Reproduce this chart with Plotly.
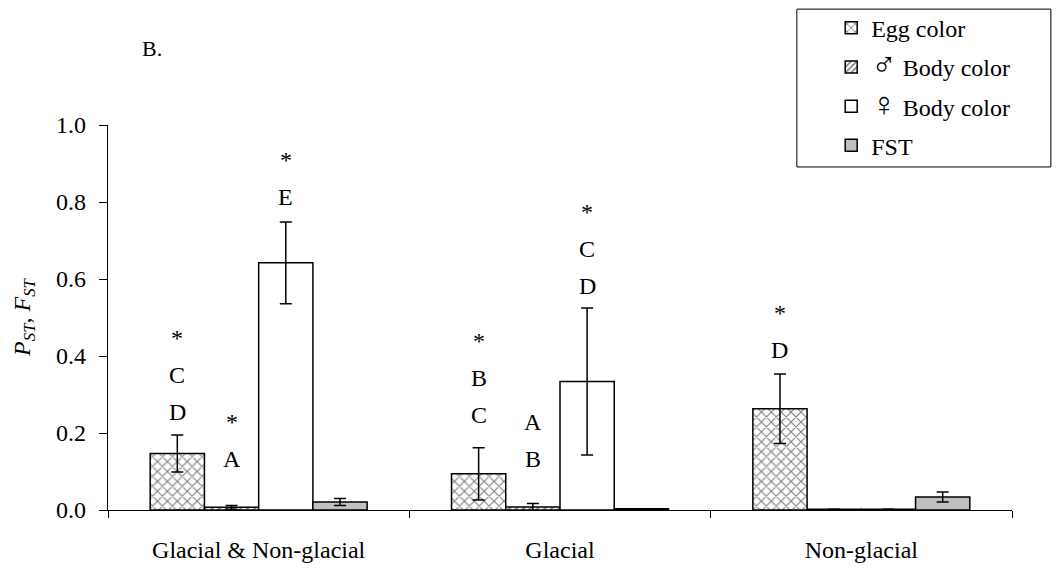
import plotly.graph_objects as go

# Population-level differentiation: PST for colour traits vs neutral FST
categories = ["Glacial & Non-glacial", "Glacial", "Non-glacial"]

egg = [0.147, 0.094, 0.263]
egg_err = [0.048, 0.068, 0.090]
male = [0.007, 0.008, 0.002]
male_err = [0.005, 0.009, 0.0]
female = [0.642, 0.334, 0.002]
female_err = [0.106, 0.191, 0.0]
fst = [0.021, 0.003, 0.034]
fst_err = [0.009, 0.0, 0.013]

# significance letters (top to bottom) and height of the lowest letter
egg_labels = [["*", "C", "D"], ["*", "B", "C"], ["*", "D"]]
egg_label_y = [0.2545, 0.247, 0.415]
male_labels = [["*", "A"], ["A", "B"], []]
male_label_y = [0.132, 0.132, 0.0]
female_labels = [["*", "E"], ["*", "C", "D"], []]
female_label_y = [0.813, 0.582, 0.0]

FONT = "Liberation Serif, Times New Roman, serif"
LINE = dict(color="black", width=1.5)
SYM = '<span style="font-size:34px">{}</span>'


def err(vals):
    return dict(type="data", array=vals, visible=True, color="black",
                thickness=1.5, width=6)


fig = go.Figure()
fig.add_trace(go.Bar(
    name="Egg color", x=categories, y=egg, error_y=err(egg_err),
    marker=dict(color="white", line=LINE,
                pattern=dict(shape="x", fgcolor="black", bgcolor="white",
                             size=7, solidity=0.3)),
    legendgroup="a"))
fig.add_trace(go.Bar(
    name=SYM.format("\u2642") + " Body color", x=categories, y=male,
    error_y=err(male_err),
    marker=dict(color="white", line=LINE,
                pattern=dict(shape="/", fgcolor="black", bgcolor="white",
                             size=5, solidity=0.4)),
    legendgroup="b"))
fig.add_trace(go.Bar(
    name=SYM.format("\u2640") + " Body color", x=categories, y=female,
    error_y=err(female_err),
    marker=dict(color="white", line=LINE),
    legendgroup="c"))
fig.add_trace(go.Bar(
    name="FST", x=categories, y=fst, error_y=err(fst_err),
    marker=dict(color="#c0c0c0", line=LINE),
    legendgroup="d"))

bargap = 0.28
n_series = 4
bw = (1 - bargap) / n_series
offsets = [(-1.5 + k) * bw for k in range(n_series)]
step = 0.096  # vertical spacing between stacked letters

for k, (labels, base) in enumerate([(egg_labels, egg_label_y),
                                    (male_labels, male_label_y),
                                    (female_labels, female_label_y)]):
    for gi, stack in enumerate(labels):
        for j, txt in enumerate(reversed(stack)):
            fig.add_annotation(
                x=gi + offsets[k], y=base[gi] + j * step, xref="x", yref="y",
                text=txt, showarrow=False,
                font=dict(family=FONT, size=24, color="#000000"))

# panel tag
fig.add_annotation(x=0.035, y=1.2, xref="paper", yref="paper", text="B.",
                   showarrow=False, xanchor="left", yanchor="middle",
                   font=dict(family=FONT, size=22, color="black"))

# legend frame
fig.add_shape(type="rect", xref="paper", yref="paper",
              x0=0.762, x1=1.043, y0=0.891, y1=1.301,
              line=dict(color="black", width=1), fillcolor="rgba(0,0,0,0)")

fig.update_layout(
    width=1057, height=572,
    margin=dict(l=108, r=45, t=125, b=62, autoexpand=False),
    paper_bgcolor="white", plot_bgcolor="white",
    barmode="group", bargap=bargap, bargroupgap=0,
    font=dict(family=FONT, size=24, color="black"),
    showlegend=True,
    legend=dict(x=0.80, y=1.31, xanchor="left", yanchor="top",
                bgcolor="rgba(0,0,0,0)", borderwidth=0,
                tracegroupgap=5, traceorder="grouped",
                font=dict(family=FONT, size=24, color="black")),
    xaxis=dict(showline=True, linecolor="black", linewidth=1.2,
               tickson="boundaries", ticks="outside", ticklen=7,
               tickcolor="black", tickwidth=1.2, ticklabelstandoff=18,
               showgrid=False, zeroline=False, automargin=False),
    yaxis=dict(range=[0, 1.0], dtick=0.2, tickformat=".1f",
               showline=True, linecolor="black", linewidth=1.2,
               ticks="outside", ticklen=8, tickcolor="black", tickwidth=1.2,
               showgrid=False, zeroline=False, ticklabelstandoff=8,
               automargin=False,
               title=dict(text="<i>P</i><sub><i>ST</i></sub>, <i>F</i><sub><i>ST</i></sub>",
                          standoff=18,
                          font=dict(family=FONT, size=24, color="black"))),
)

fig.write_html("out.html")
